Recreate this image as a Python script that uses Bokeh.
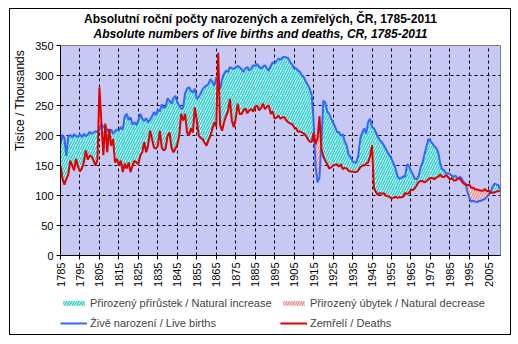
import numpy as np
from bokeh.plotting import figure
from bokeh.layouts import column
from bokeh.models import (Legend, LegendItem, Label, FixedTicker, Range1d)
from bokeh.embed import file_html
from bokeh.resources import INLINE

years = list(range(1785, 2012))

births = [
    185, 201, 196, 166, 198, 201, 197, 202, 199, 198,   # 1785-1794
    202, 197, 203, 199, 201, 206, 203, 205, 207, 206,   # 1795-1804
    210, 219, 214, 216, 209, 205, 210, 203, 207, 210,   # 1805-1814
    208, 214, 210, 232, 236, 226, 230, 218, 222, 217,   # 1815-1824
    226, 236, 228, 224, 229, 222, 226, 232, 239, 234,   # 1825-1834
    243, 240, 252, 246, 248, 262, 258, 253, 262, 266,   # 1835-1844
    255, 250, 244, 247, 270, 278, 281, 274, 272, 278,   # 1845-1854
    261, 264, 270, 277, 281, 283, 286, 294, 289, 283,   # 1855-1864
    297, 290, 278, 294, 303, 308, 306, 314, 312, 311,   # 1865-1874
    313, 316, 314, 310, 306, 312, 314, 308, 312, 317,   # 1875-1884
    316, 319, 315, 311, 315, 317, 312, 308, 316, 322,   # 1885-1894
    320, 324, 328, 326, 330, 331, 330, 329, 322, 318,   # 1895-1904
    311, 312, 308, 306, 300, 297, 290, 284, 278, 268,   # 1905-1914
    225, 150, 122, 130, 190, 258, 255, 240, 236, 228,   # 1915-1924
    222, 215, 206, 206, 200, 202, 190, 183, 168, 164,   # 1925-1934
    157, 155, 155, 168, 195, 205, 212, 203, 222, 228,   # 1935-1944
    214, 212, 205, 198, 192, 189, 184, 178, 172, 167,   # 1945-1954
    161, 154, 146, 133, 128, 129, 132, 131, 152, 150,   # 1955-1964
    141, 135, 128, 127, 133, 147, 155, 169, 182, 194,   # 1965-1974
    191, 187, 182, 179, 172, 154, 144, 142, 137, 137,   # 1975-1984
    136, 133, 131, 133, 128, 131, 129, 122, 121, 107,   # 1985-1994
    96, 90, 91, 90, 89, 91, 91, 93, 94, 98,             # 1995-2004
    102, 106, 115, 120, 118, 117, 109,                  # 2005-2011
]

deaths = [
    150, 128, 118, 128, 135, 158, 150, 142, 161, 148,   # 1785-1794
    140, 145, 156, 175, 160, 167, 165, 158, 150, 160,   # 1795-1804
    280, 222, 167, 220, 172, 211, 183, 194, 155, 161,   # 1805-1814
    150, 158, 139, 153, 145, 155, 139, 150, 158, 155,   # 1815-1824
    152, 167, 172, 189, 172, 183, 208, 194, 180, 178,   # 1825-1834
    183, 208, 180, 175, 178, 200, 205, 180, 172, 178,   # 1835-1844
    185, 200, 236, 225, 236, 205, 200, 212, 205, 247,   # 1845-1854
    225, 200, 196, 194, 188, 183, 192, 200, 211, 222,   # 1855-1864
    215, 338, 217, 208, 222, 232, 240, 261, 225, 214,   # 1865-1874
    228, 253, 236, 236, 242, 245, 237, 242, 244, 240,   # 1875-1884
    248, 250, 242, 246, 253, 244, 248, 250, 236, 240,   # 1885-1894
    228, 230, 233, 228, 230, 231, 225, 222, 220, 219,   # 1895-1904
    214, 212, 206, 207, 205, 203, 200, 194, 190, 189,   # 1905-1914
    205, 185, 195, 232, 178, 165, 158, 152, 145, 147,   # 1915-1924
    150, 151, 152, 148, 152, 144, 146, 145, 141, 140,   # 1925-1934
    140, 139, 139, 142, 147, 150, 150, 153, 155, 165,   # 1935-1944
    184, 112, 106, 101, 104, 103, 104, 100, 99, 98,     # 1945-1954
    95, 96, 98, 96, 97, 97, 98, 104, 103, 104,          # 1955-1964
    110, 109, 112, 117, 123, 124, 124, 122, 124, 127,   # 1965-1974
    129, 129, 127, 130, 131, 135, 131, 131, 134, 131,   # 1975-1984
    127, 129, 125, 125, 128, 129, 124, 120, 118, 117,   # 1985-1994
    118, 113, 113, 110, 110, 109, 108, 108, 111, 107,   # 1995-2004
    108, 104, 105, 105, 107, 107, 107,                  # 2005-2011
]

x_ticks = list(range(1785, 2011, 10))
y_ticks = list(range(0, 351, 50))

title_cz = "Absolutní roční počty narozených a zemřelých, ČR, 1785-2011"
title_en = "Absolute numbers of live births and deaths, CR, 1785-2011"
y_label = "Tisíce / Thousands"
lab_inc = "Přirozený přírůstek / Natural increase"
lab_dec = "Přirozený úbytek / Natural decrease"
lab_b = "Živě narození / Live births"
lab_d = "Zemřelí / Deaths"

FONT = "Liberation Sans"
INC_STYLE = dict(fill_color="white", hatch_pattern="/", hatch_color="#2CD0D0",
                 hatch_weight=1.6, hatch_scale=5)
DEC_STYLE = dict(fill_color="white", hatch_pattern="/", hatch_color="#EC9090",
                 hatch_weight=1.6, hatch_scale=5)
BLUE = "#3366FF"
RED = "#E00000"

# insert crossing points so that the two fills meet exactly where the lines cross
X, B, D = [], [], []
for i, yr in enumerate(years):
    if i > 0:
        d0 = births[i - 1] - deaths[i - 1]
        d1 = births[i] - deaths[i]
        if d0 * d1 < 0:
            t = d0 / (d0 - d1)
            xc = years[i - 1] + t
            yc = deaths[i - 1] + t * (deaths[i] - deaths[i - 1])
            X.append(xc); B.append(yc); D.append(yc)
    X.append(yr); B.append(births[i]); D.append(deaths[i])
X = np.array(X, dtype=float); B = np.array(B, dtype=float); D = np.array(D, dtype=float)


def strip(h, yr):
    # the column aligns this strip's frame with the chart frame (440 px wide)
    f = figure(width=500, height=h, output_backend="svg", toolbar_location=None,
               x_axis_location=None, y_axis_location=None,
               x_range=Range1d(0, 440), y_range=yr,
               min_border=0, min_border_left=0, min_border_right=0,
               min_border_top=0, min_border_bottom=0)
    f.xgrid.visible = False
    f.ygrid.visible = False
    f.outline_line_color = None
    f.background_fill_color = "white"
    f.border_fill_color = "white"
    return f


# ---- title strip ----
top = strip(31, Range1d(31, 0))
top.add_layout(Label(x=200, y=9.5, text=title_cz, text_align="center", text_baseline="middle",
                     text_font=FONT, text_font_size="12px", text_font_style="bold",
                     text_color="black"))
top.add_layout(Label(x=200, y=24.5, text=title_en, text_align="center", text_baseline="middle",
                     text_font=FONT, text_font_size="12px", text_font_style="bold italic",
                     text_color="black"))

# ---- main chart ----
p = figure(width=500, height=249, output_backend="svg", toolbar_location=None,
           x_range=Range1d(1785, 2011), y_range=Range1d(0, 350),
           min_border_left=50, min_border_right=10, min_border_top=5, min_border_bottom=34)
p.background_fill_color = "#C8C8F4"
p.border_fill_color = "white"
p.outline_line_color = "#808080"

inc = p.varea(x=X, y1=D, y2=np.maximum(B, D), **INC_STYLE)
dec = p.varea(x=X, y1=np.minimum(B, D), y2=D, **DEC_STYLE)
p.line(years, births, line_color=BLUE, line_width=2)
p.line(years, deaths, line_color=RED, line_width=2)

for ax in (p.xaxis, p.yaxis):
    ax.axis_line_color = "black"
    ax.major_tick_line_color = "black"
    ax.major_tick_out = 4
    ax.major_tick_in = 0
    ax.minor_tick_line_color = None
    ax.major_label_text_font = FONT
    ax.major_label_text_font_size = "11px"
    ax.major_label_text_color = "black"
    ax.major_label_standoff = 3
p.xaxis.ticker = FixedTicker(ticks=x_ticks)
p.yaxis.ticker = FixedTicker(ticks=y_ticks)
p.xaxis.major_label_orientation = np.pi / 2
p.yaxis.axis_label = "\u00a0" * 30 + y_label
p.yaxis.axis_label_text_font = FONT
p.yaxis.axis_label_text_font_size = "12px"
p.yaxis.axis_label_text_font_style = "normal"
p.yaxis.axis_label_text_color = "black"
p.yaxis.axis_label_standoff = 5

for g in (p.xgrid, p.ygrid):
    g.grid_line_color = "black"
    g.grid_line_dash = "3 3"
    g.grid_line_width = 1
p.xgrid.ticker = FixedTicker(ticks=x_ticks)
p.ygrid.ticker = FixedTicker(ticks=y_ticks)

# ---- legend strip (legend glyph renderers hold off-screen data) ----
leg = strip(45, Range1d(0, 45))
off = dict(x=[-200, -100], y1=[-200, -200], y2=[-100, -100])
g_inc = leg.varea(**off, **INC_STYLE)
g_dec = leg.varea(**off, **DEC_STYLE)
g_b = leg.line(x=[-200, -100], y=[-200, -100], line_color=BLUE, line_width=2)
g_d = leg.line(x=[-200, -100], y=[-200, -100], line_color=RED, line_width=2)
legend = Legend(items=[LegendItem(label=lab_inc, renderers=[g_inc]),
                       LegendItem(label=lab_b, renderers=[g_b]),
                       LegendItem(label=lab_dec, renderers=[g_dec]),
                       LegendItem(label=lab_d, renderers=[g_d])],
                ncols=2, location=(0, 1), margin=0, padding=0, spacing=0,
                glyph_width=27, glyph_height=6, label_height=20, label_width=190,
                label_standoff=3, label_text_font=FONT, label_text_font_size="11px",
                background_fill_alpha=0, border_line_color=None)
leg.add_layout(legend, "center")

page = column(top, p, leg, spacing=0, margin=(8, 0, 0, 9),
              styles={"border": "1px solid black"})

open("out.html", "w").write(file_html(page, INLINE))
